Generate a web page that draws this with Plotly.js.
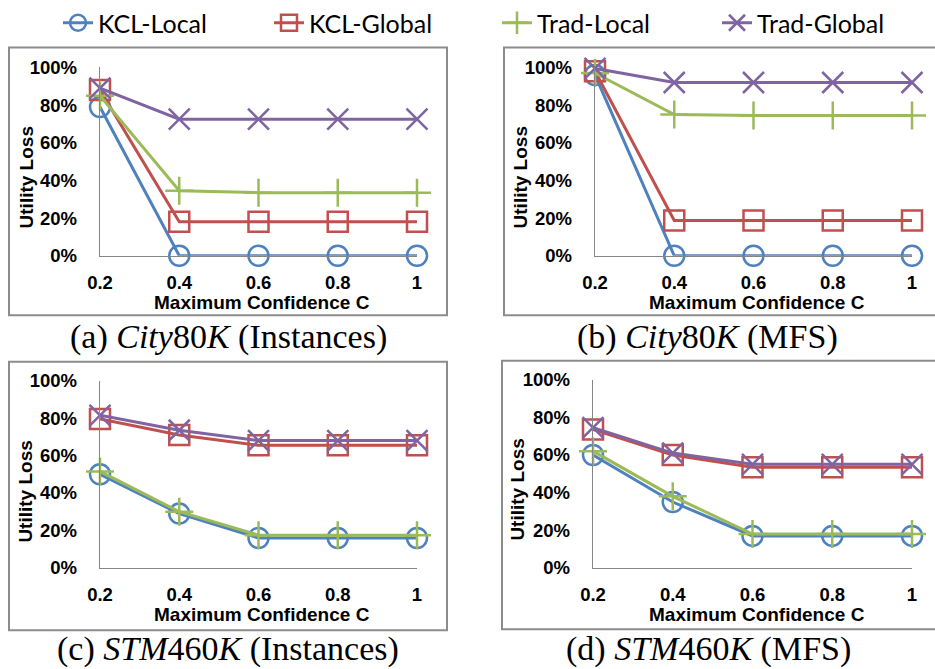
<!DOCTYPE html>
<html>
<head>
<meta charset="utf-8">
<script src="https://cdn.plot.ly/plotly-3.0.1.min.js"></script>
<style>html,body{margin:0;padding:0;background:#fff;}#chart{width:935px;height:669px;}</style>
</head>
<body>
<div id="chart"></div>
<script>
// ---- data ----
var confidence = [0.2, 0.4, 0.6, 0.8, 1.0];
var confidenceLabels = ['0.2', '0.4', '0.6', '0.8', '1'];
var seriesNames = ['KCL-Local', 'KCL-Global', 'Trad-Local', 'Trad-Global'];

// (a) City80K (Instances)
var cityInstKclLocal   = [0.79, 0.00, 0.00, 0.00, 0.00];
var cityInstKclGlobal  = [0.88, 0.18, 0.18, 0.18, 0.18];
var cityInstTradLocal  = [0.85, 0.345, 0.335, 0.335, 0.335];
var cityInstTradGlobal = [0.89, 0.725, 0.725, 0.725, 0.725];

// (b) City80K (MFS)
var cityMfsKclLocal   = [0.96, 0.00, 0.00, 0.00, 0.00];
var cityMfsKclGlobal  = [0.98, 0.187, 0.187, 0.187, 0.187];
var cityMfsTradLocal  = [0.97, 0.75, 0.745, 0.745, 0.745];
var cityMfsTradGlobal = [0.995, 0.92, 0.92, 0.92, 0.92];

// (c) STM460K (Instances)
var stmInstKclLocal   = [0.50, 0.29, 0.16, 0.16, 0.16];
var stmInstKclGlobal  = [0.795, 0.71, 0.655, 0.655, 0.655];
var stmInstTradLocal  = [0.515, 0.30, 0.175, 0.175, 0.175];
var stmInstTradGlobal = [0.815, 0.735, 0.68, 0.68, 0.68];

// (d) STM460K (MFS)
var stmMfsKclLocal   = [0.60, 0.35, 0.17, 0.17, 0.17];
var stmMfsKclGlobal  = [0.735, 0.60, 0.535, 0.535, 0.535];
var stmMfsTradLocal  = [0.62, 0.38, 0.18, 0.18, 0.18];
var stmMfsTradGlobal = [0.745, 0.61, 0.55, 0.55, 0.55];

var captions = [
  '(a) <i>City</i>80<i>K</i> (Instances)',
  '(b) <i>City</i>80<i>K</i> (MFS)',
  '(c) <i>STM</i>460<i>K</i> (Instances)',
  '(d) <i>STM</i>460<i>K</i> (MFS)'
];
var yTitle = 'Utility Loss';
var xTitle = 'Maximum Confidence C';

// ---- styling ----
var W = 935, H = 669;
function PX(p){ return p / W; }
function PY(p){ return 1 - p / H; }

var colors = ['#4F81BD', '#C0504D', '#9BBB59', '#8064A2'];
var symbols = ['circle-open', 'square-open', 'cross-thin-open', 'x-thin-open'];
var sizes = [20, 20, 20, 21];
var legendWidths = [166, 183, 175, 140];

var panels = [
  {data: [cityInstKclLocal, cityInstKclGlobal, cityInstTradLocal, cityInstTradGlobal],
   x: [100, 417], y: [252, 62], box: [9, 447, 42, 312], ytl: [26, 173], xtl: [262, 299], cap: [228, 334, 'middle']},
  {data: [cityMfsKclLocal, cityMfsKclGlobal, cityMfsTradLocal, cityMfsTradGlobal],
   x: [595, 912], y: [252, 62], box: [504, 940, 42, 312], ytl: [520, 173], xtl: [757, 299], cap: [707, 334, 'middle']},
  {data: [stmInstKclLocal, stmInstKclGlobal, stmInstTradLocal, stmInstTradGlobal],
   x: [100, 417], y: [567, 378], box: [9, 447, 359, 630], ytl: [26, 490], xtl: [262, 614], cap: [228, 669, 'bottom']},
  {data: [stmMfsKclLocal, stmMfsKclGlobal, stmMfsTradLocal, stmMfsTradGlobal],
   x: [593, 912], y: [567, 377], box: [502, 940, 358, 629], ytl: [518, 488], xtl: [757, 614], cap: [708, 669, 'bottom']}
];

var tickFont = {family: 'Liberation Sans, Arial, sans-serif', size: 18.5, color: '#000', weight: 'bold'};
var traces = [];
var layout = {
  width: W, height: H,
  margin: {l: 0, r: 0, t: 0, b: 0},
  paper_bgcolor: '#fff', plot_bgcolor: 'rgba(0,0,0,0)',
  showlegend: true,
  legend: {
    orientation: 'h', x: PX(58), xanchor: 'left', y: PY(17), yanchor: 'middle',
    font: {family: 'Lato, Liberation Sans, Arial, sans-serif', size: 25, color: '#000'},
    itemwidth: 30, tracegroupgap: 0, bgcolor: 'rgba(0,0,0,0)'
  },
  shapes: [], annotations: []
};

panels.forEach(function(p, i){
  var sfx = i === 0 ? '' : String(i + 1);
  p.data.forEach(function(vals, s){
    traces.push({
      type: 'scatter', mode: 'lines+markers',
      x: confidence, y: vals,
      xaxis: 'x' + sfx, yaxis: 'y' + sfx,
      name: seriesNames[s], legendgroup: seriesNames[s], showlegend: i === 0,
      legendwidth: legendWidths[s],
      line: {color: colors[s], width: 3},
      marker: {symbol: symbols[s], size: sizes[s], color: colors[s], line: {color: colors[s], width: 2.5}},
      cliponaxis: false
    });
  });
  layout['xaxis' + sfx] = {
    domain: [PX(p.x[0]), PX(p.x[1])], anchor: 'y' + sfx,
    range: [0.2, 1], tickvals: confidence, ticktext: confidenceLabels,
    showline: true, linecolor: '#868686', linewidth: 1.3, showgrid: false, zeroline: false,
    ticks: '', ticklabelstandoff: 10, tickfont: tickFont, fixedrange: true
  };
  layout['yaxis' + sfx] = {
    domain: [PY(p.y[0]), PY(p.y[1])], anchor: 'x' + sfx,
    range: [0, 1], dtick: 0.2, tick0: 0, tickformat: '.0%',
    showline: true, linecolor: '#868686', linewidth: 1.3, showgrid: false, zeroline: false,
    ticks: '', ticklabelstandoff: 18, tickfont: tickFont, fixedrange: true
  };
  layout.shapes.push({type: 'rect', xref: 'paper', yref: 'paper',
    x0: PX(p.box[0]), x1: PX(p.box[1]), y0: PY(p.box[3]), y1: PY(p.box[2]),
    line: {color: '#8c8c8c', width: 2}});
  layout.annotations.push({xref: 'paper', yref: 'paper', x: PX(p.ytl[0]), y: PY(p.ytl[1]),
    text: yTitle, textangle: -90, showarrow: false, xanchor: 'center', yanchor: 'middle',
    font: {family: 'Liberation Sans, Arial, sans-serif', size: 19, color: '#000', weight: 'bold'}});
  layout.annotations.push({xref: 'paper', yref: 'paper', x: PX(p.xtl[0]), y: PY(p.xtl[1]),
    text: xTitle, showarrow: false, xanchor: 'center', yanchor: 'middle',
    font: {family: 'Liberation Sans, Arial, sans-serif', size: 19, color: '#000', weight: 'bold'}});
  layout.annotations.push({xref: 'paper', yref: 'paper', x: PX(p.cap[0]), y: PY(p.cap[1]),
    text: captions[i], showarrow: false, xanchor: 'center', yanchor: p.cap[2], borderpad: 0,
    font: {family: 'Liberation Serif, Times New Roman, serif', size: 34, color: '#000'}});
});

Plotly.newPlot('chart', traces, layout, {displayModeBar: false, staticPlot: true});
</script>
</body>
</html>
